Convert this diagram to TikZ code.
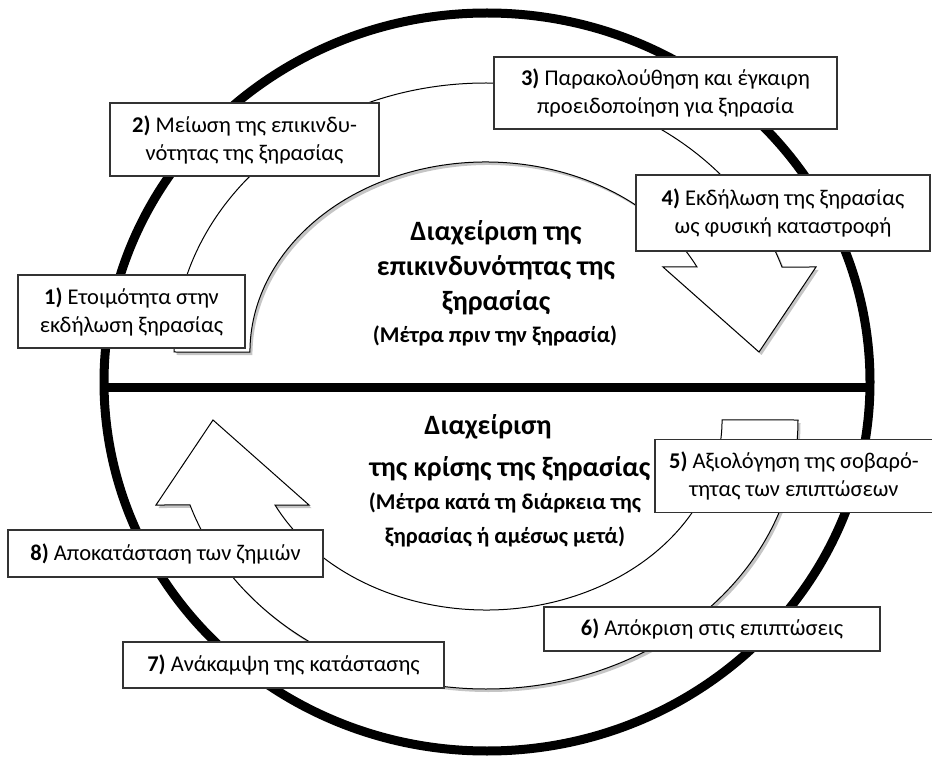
\documentclass[tikz,border=0pt]{standalone}
\usepackage{fontspec}
\setmainfont{Carlito}
\usepackage{tikz}
\usetikzlibrary{shadows}

\begin{document}
\begin{tikzpicture}[x=1pt,y=1pt,
    stepbox/.style={draw=black!80, line width=1.2pt, fill=white, align=center,
      inner sep=0pt, font=\fontsize{22.5}{28}\selectfont},
    ringarrow/.style={draw, line width=1pt, fill=white,
      drop shadow={shadow xshift=2.5pt, shadow yshift=-3pt, fill=black!45}},
    headline/.style={align=center, font=\bfseries\fontsize{28}{35}\selectfont},
    noteline/.style={align=center, font=\bfseries\fontsize{22.5}{34}\selectfont}]
    \useasboundingbox (0,0) rectangle (932,-759);

    % outer rim and the dividing line
    \draw[line width=9pt] (487,-382) ellipse [x radius=383, y radius=369];
    \draw[line width=9pt] (104,-387) -- (870,-387);

    % upper ring arrow, clockwise
    \draw[ringarrow] (174,-352)
      arc[start angle=180, end angle=18.42, x radius=312, y radius=269]
      -- (816,-267) -- (759,-352) -- (663,-267) -- (697,-267)
      arc[start angle=26.58, end angle=180, x radius=236, y radius=190] -- cycle;

    % lower ring arrow, clockwise
    \draw[ringarrow] (798,-420)
      arc[start angle=0, end angle=-161.58, x radius=312, y radius=269]
      -- (156,-505) -- (213,-420) -- (309,-505) -- (275,-505)
      arc[start angle=-153.42, end angle=0, x radius=236, y radius=190] -- cycle;

    % middle texts
    \node[headline] (riskhead) at (496,-267.5) {Διαχείριση της\\επικινδυνότητας της\\ξηρασίας};
    \node[noteline, anchor=base] (risknote) at (495,-343) {(Μέτρα πριν την ξηρασία)};
    \node[headline] (crisishead) at (510,-447.5) {Διαχείριση\hspace*{44pt}\\[7pt]της κρίσης της ξηρασίας};
    \node[noteline] (crisisnote) at (505,-519.5) {(Μέτρα κατά τη διάρκεια της\\ξηρασίας ή αμέσως μετά)};

    % the eight steps
    \node[stepbox, minimum width=227, minimum height=73] (prepare) at (131.5,-311.5)
      {\textbf{1)} Ετοιμότητα στην\\εκδήλωση ξηρασίας};
    \node[stepbox, minimum width=269, minimum height=73] (reduce) at (244.5,-139.5)
      {\textbf{2)} Μείωση της επικινδυ-\\νότητας της ξηρασίας};
    \node[stepbox, minimum width=343, minimum height=72] (monitor) at (665.5,-93)
      {\textbf{3)} Παρακολούθηση και έγκαιρη\\προειδοποίηση για ξηρασία};
    \node[stepbox, minimum width=294, minimum height=76] (onset) at (783,-213)
      {\textbf{4)} Εκδήλωση της ξηρασίας\\ως φυσική καταστροφή};
    \node[stepbox, minimum width=278, minimum height=73] (assess) at (794,-476)
      {\textbf{5)} Αξιολόγηση της σοβαρό-\\τητας των επιπτώσεων};
    \node[stepbox, minimum width=336, minimum height=44] (respond) at (712,-629)
      {\textbf{6)} Απόκριση στις επιπτώσεις};
    \node[stepbox, minimum width=321, minimum height=46] (recover) at (283.5,-665)
      {\textbf{7)} Ανάκαμψη της κατάστασης};
    \node[stepbox, minimum width=315, minimum height=47] (restore) at (165.5,-553.5)
      {\textbf{8)} Αποκατάσταση των ζημιών};
\end{tikzpicture}
\end{document}
